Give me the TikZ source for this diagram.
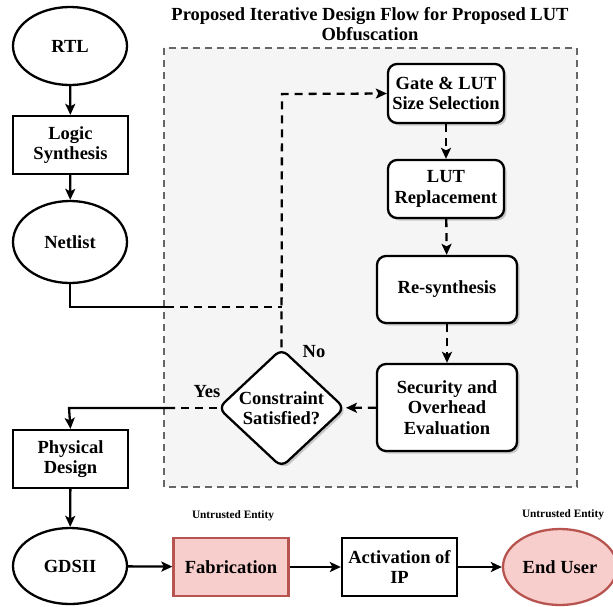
\documentclass[tikz,border=0pt]{standalone}
\usepackage{fontspec}
\setmainfont{Liberation Serif}
\usetikzlibrary{arrows.meta,shapes.geometric,shadows}
\definecolor{boxgray}{HTML}{F5F5F5}
\definecolor{boxline}{HTML}{666666}
\definecolor{redfill}{HTML}{F8CECC}
\definecolor{redline}{HTML}{B85450}
\begin{document}
\begin{tikzpicture}[x=1pt,y=-1pt,
  every node/.style={font=\fontsize{18.5}{20.5}\selectfont\bfseries, align=center},
  tip/.style={-{Stealth[length=11pt,width=10pt,inset=2.5pt]}},
  conn/.style={line width=2.3pt, tip},
  plain/.style={line width=2.3pt},
  dsh/.style={line width=2.3pt, dash pattern=on 8pt off 6pt},
  dconn/.style={dsh, tip},
  shd/.style={drop shadow={shadow xshift=2.5pt, shadow yshift=-2.5pt, fill=black, opacity=0.18}},
  flowbox/.style={draw, line width=2.3pt, fill=white, minimum width=115pt, minimum height=58pt, inner sep=1pt},
  inbox/.style={flowbox, rounded corners=9pt, shd},
  oval/.style={draw, line width=2.3pt, fill=white, ellipse, minimum width=114pt, minimum height=78pt, inner sep=0pt},
  untrusted/.style={font=\fontsize{11.3}{13}\selectfont\bfseries}
]
\useasboundingbox (0,0) rectangle (613,606);
% background region
\draw[boxline, fill=boxgray, line width=1.8pt, dash pattern=on 7pt off 5pt] (164,48) rectangle (577,487);
\node (title) at (370,24) {Proposed Iterative Design Flow for Proposed LUT\\Obfuscation};

% main flow
\node[oval] (rtl) at (70,46) {RTL};
\node[flowbox] (logic) at (70.5,145) {Logic\\Synthesis};
\node[oval, minimum height=82pt] (netlist) at (70,242) {Netlist};
\node[flowbox] (phys) at (70.5,459) {Physical\\Design};
\node[oval, minimum height=76pt] (gds) at (70,566) {GDSII};
\node[flowbox, fill=redfill, draw=redline] (fab) at (231,567) {Fabrication};
\node[flowbox] (act) at (399.5,567) {Activation of\\IP};
\node[oval, fill=redfill, draw=redline, minimum height=76pt] (user) at (560,567) {End User};
\node[untrusted] (ut1) at (233,516) {Untrusted Entity};
\node[untrusted] (ut2) at (563,515) {Untrusted Entity};

% iterative loop
\node[inbox, minimum width=116pt, minimum height=59pt] (gate) at (446,93.5) {Gate \& LUT\\Size Selection};
\node[inbox, minimum width=116pt, minimum height=58pt] (lutr) at (446,189) {LUT\\Replacement};
\node[inbox, minimum width=140pt, minimum height=67pt] (resyn) at (447,289.5) {Re-synthesis};
\node[inbox, minimum width=140pt, minimum height=87pt] (sec) at (447,407.5) {Security and\\Overhead\\Evaluation};
\node[draw, line width=2.3pt, fill=white, diamond, rounded corners=8pt, shd, minimum width=127pt, minimum height=116pt, inner sep=0pt] (dec) at (281.5,408) {Constraint\\Satisfied?};
\node (no) at (314,352) {No};
\node (yes) at (207,392) {Yes};

\coordinate (nl1) at (70,307);
\coordinate (nl2) at (166,307);
\coordinate (nl3) at (282,307);
\coordinate (lp) at (282,94);
\coordinate (y1) at (175,408);
\coordinate (y2) at (69,408);

\draw[conn] (rtl) -- (logic);
\draw[conn] (logic) -- (netlist);
\draw[plain] (netlist.south) -- (nl1) -- (nl2);
\draw[dsh] (nl2) -- (nl3);
\draw[dconn] (dec.north) -- (lp) -- (gate.west);
\draw[dconn] (gate) -- (lutr);
\draw[dconn] (lutr) -- (resyn);
\draw[dconn] (resyn) -- (sec);
\draw[dconn] (sec) -- (dec);
\draw[dsh] (dec.west) -- (y1);
\draw[conn] (y1) -- (y2) -- (phys.north);
\draw[conn] (phys) -- (gds);
\draw[conn] (gds) -- (fab);
\draw[conn] (fab) -- (act);
\draw[conn] (act) -- (user);
\end{tikzpicture}
\end{document}
